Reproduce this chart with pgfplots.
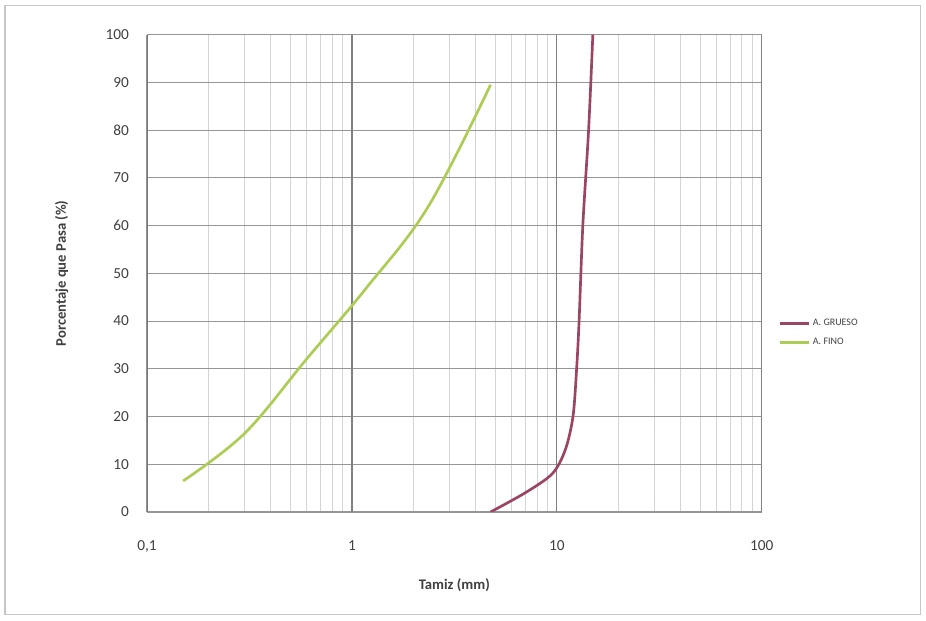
\documentclass[border=0pt]{standalone}
\usepackage{pgfplots}
\pgfplotsset{compat=1.18}
\usepackage{fontspec}
\setmainfont{Carlito}
\definecolor{grueso}{RGB}{155,68,100}
\definecolor{fino}{RGB}{172,204,84}
\definecolor{majgrid}{RGB}{150,150,150}
\definecolor{mingrid}{RGB}{210,212,220}
\begin{document}
\begin{tikzpicture}
\path[use as bounding box] (-110.25pt,-81.75pt) rectangle (584.25pt,384pt);
\draw[gray!45, line width=1pt] (-106.5pt,-77pt) rectangle (580pt,380pt);
\begin{axis}[
  at={(0,0)}, anchor=south west,
  scale only axis, width=461pt, height=358pt,
  xmode=log, log basis x=10,
  xmin=0.1, xmax=100, ymin=0, ymax=100,
  xtick={0.1,1,10,100}, xticklabels={{0,1},1,10,100},
  ytick={0,10,...,100},
  minor xtick={0.2,0.3,0.4,0.5,0.6,0.7,0.8,0.9,2,3,4,5,6,7,8,9,20,30,40,50,60,70,80,90},
  grid=both,
  major grid style={majgrid, line width=0.8pt},
  minor grid style={mingrid, line width=0.6pt},
  axis line style={draw=none},
  major tick length=0pt, minor tick length=0pt,
  tick label style={font=\fontsize{11.5}{13}\selectfont, text=black!75},
  xticklabel style={yshift=-18pt},
  yticklabel style={xshift=-10pt},
  /pgf/number format/assume math mode=true,
  xlabel={\textbf{Tamiz (mm)}},
  ylabel={\textbf{Porcentaje que Pasa (\%)}},
  label style={font=\fontsize{11}{13}\selectfont, text=black!75},
  xlabel style={at={(axis description cs:0.5,0)}, anchor=center, yshift=-55pt},
  ylabel style={at={(axis description cs:0,0.5)}, anchor=center, yshift=64pt},
  legend style={at={(rel axis cs:1.02,0.375)}, anchor=west, draw=none, fill=none,
    font=\fontsize{7.5}{9}\selectfont, text=black!75, row sep=4pt},
  legend cell align=left,
  legend image code/.code={\draw[#1, line width=2pt] (0pt,0pt) -- (22pt,0pt);},
]
\draw[majgrid!80!black, line width=1pt] (axis cs:0.1,0) -- (axis cs:0.1,100);
\draw[majgrid!80!black, line width=1pt] (axis cs:100,0) -- (axis cs:100,100);
\draw[majgrid!85!black, line width=1pt] (axis cs:1,0) -- (axis cs:1,100);
\draw[majgrid!85!black, line width=1pt] (axis cs:10,0) -- (axis cs:10,100);
\addplot[grueso, line width=2pt, smooth, tension=0.5] coordinates {
 (4.75,0) (7,4) (9.5,8) (11,13) (12,20) (12.5,30) (12.85,40) (13.4,60) (14.3,80) (15,100)
};
\addlegendentry{A. GRUESO}
\addplot[fino, line width=2pt, smooth, tension=0.6] coordinates {
 (0.15,6.5) (0.3,16.5) (0.6,32) (1.18,47) (2.36,64) (4.75,89.5)
};
\addlegendentry{A. FINO}
\end{axis}
\end{tikzpicture}
\end{document}
